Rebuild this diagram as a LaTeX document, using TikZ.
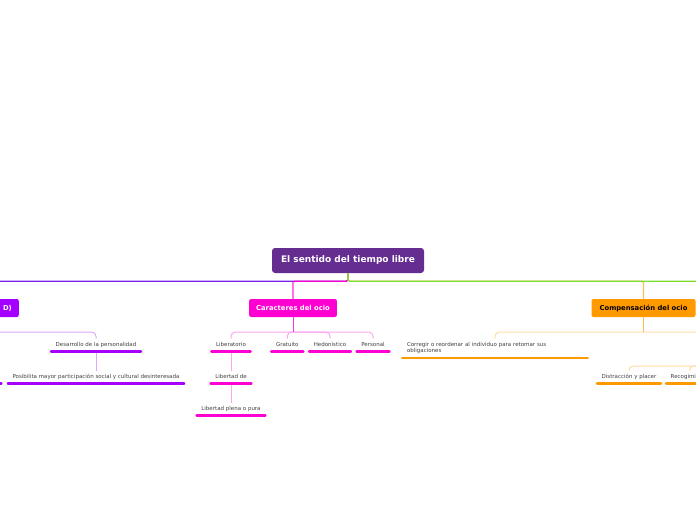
\documentclass[tikz,border=0pt]{standalone}
\usepackage{fontspec}
\setmainfont{DejaVu Sans}
\usetikzlibrary{positioning,calc}
\definecolor{rootpurple}{RGB}{102,45,145}
\definecolor{ocioviolet}{RGB}{165,0,255}
\definecolor{busviolet}{RGB}{115,35,235}
\definecolor{ociomagenta}{RGB}{255,0,210}
\definecolor{ocioorange}{RGB}{255,153,0}
\definecolor{ociogreen}{RGB}{125,222,45}

\begin{document}
\begin{tikzpicture}[x=1pt,y=-1pt,
 rootbox/.style={fill=rootpurple,text=white,rounded corners=3pt,inner sep=0pt,
 font=\fontsize{9}{11}\selectfont\bfseries,minimum width=152pt,minimum height=25pt},
 topic/.style={rounded corners=2pt,inner xsep=7pt,inner ysep=0pt,minimum height=18pt,
 font=\fontsize{6.8}{8}\selectfont\bfseries},
 leaf/.style={anchor=north,font=\fontsize{5.5}{6.7}\selectfont,text=black!75,
 text height=4pt,text depth=1.5pt,inner xsep=4.5pt,inner ysep=3.5pt,
 append after command={(\tikzlastnode.south west) edge[bar,#1] (\tikzlastnode.south east)}},
 bar/.style={line width=2.6pt,line cap=round},
 branch/.style={line width=1.2pt,rounded corners=1.5pt},
 twig/.style={line width=1pt,rounded corners=4pt}]
\useasboundingbox (0,0) rectangle (696,520);
\clip (0,0) rectangle (696,520);

\node[rootbox] (root) at (348,260.5) {El sentido del tiempo libre};
\node[topic,fill=ocioviolet,text=white,anchor=east,text width=80pt,align=right] (dbox) at (19,308) {D)};
\node[topic,fill=ociomagenta,text=white] (car) at (293,308) {Caracteres del ocio};
\node[topic,fill=ocioorange,minimum width=104pt] (comp) at (643.5,308) {Compensación del ocio};
\coordinate (greenend) at (760,300);

\node[leaf=ocioviolet] (des) at (96,338.5) {Desarrollo de la personalidad};
\node[leaf=ocioviolet] (pos) at (96,370.8) {Posibilita mayor participación social y cultural desinteresada};
\draw[bar,ocioviolet] (-20,383.3) -- (1.4,383.3);

\node[leaf=ociomagenta] (lib) at (231,338.5) {Liberatorio};
\node[leaf=ociomagenta] (grat) at (287.3,338.5) {Gratuito};
\node[leaf=ociomagenta] (hed) at (330,338.5) {Hedonístico};
\node[leaf=ociomagenta] (pers) at (373,338.5) {Personal};
\node[leaf=ociomagenta] (libde) at (231,370.8) {Libertad de};
\node[leaf=ociomagenta] (libpl) at (231,402.5) {Libertad plena o pura};

\node[leaf=ocioorange,text width=176pt,align=left,text depth=8.2pt] (corr) at (495,338.5)
 {Corregir o reordenar al individuo para retomar sus\\obligaciones};
\coordinate (compkid) at (760,351);
\node[leaf=ocioorange] (dis) at (629,370.8) {Distracción y placer};
\node[leaf=ocioorange,anchor=north west] (rec) at (666,370.8) {Recogimiento};

\coordinate (dhub) at ([yshift=-15pt]dbox.south);
\coordinate (carhub) at ([yshift=-15pt]car.south);
\coordinate (comphub) at ([yshift=-15pt]comp.south);
\coordinate (kidhub) at ([yshift=-15pt]compkid);

\draw[branch,busviolet] (root.south) -- ([yshift=-8pt]root.south) -| (dbox.north);
\draw[branch,ociomagenta] (root.south) -- ([yshift=-8pt]root.south) -| (car.north);
\draw[branch,ociomagenta!55] (car.north) -- ([yshift=17pt]car.north);
\draw[branch,ocioorange!65] (root.south) -- ([yshift=-8pt]root.south) -| (comp.north);
\draw[branch,ociogreen] (root.south) -- ([yshift=-8pt]root.south) -| (greenend);

\draw[twig,ocioviolet!35] (dhub) -| (des.north);
\draw[twig,ocioviolet!80] (dbox.south) -- (dhub);
\draw[twig,ocioviolet!35,shorten <=1.5pt] (des.south) -- (pos.north);

\foreach \n in {lib,grat,hed,pers}
 \draw[twig,ociomagenta!35] (carhub) -| (\n.north);
\draw[twig,ociomagenta!80] (car.south) -- (carhub);
\draw[twig,ociomagenta!35,shorten <=1.5pt] (lib.south) -- (libde.north);
\draw[twig,ociomagenta!35,shorten <=1.5pt] (libde.south) -- (libpl.north);

\draw[twig,ocioorange!35] (comphub) -| (corr.north);
\draw[twig,ocioorange!35] (comphub) -| (compkid);
\draw[twig,ocioorange!70] (comp.south) -- (comphub);
\draw[twig,ocioorange!35] (compkid) -- (kidhub);
\foreach \n in {dis,rec}
 \draw[twig,ocioorange!35] (kidhub) -| (\n.north);
\end{tikzpicture}
\end{document}
